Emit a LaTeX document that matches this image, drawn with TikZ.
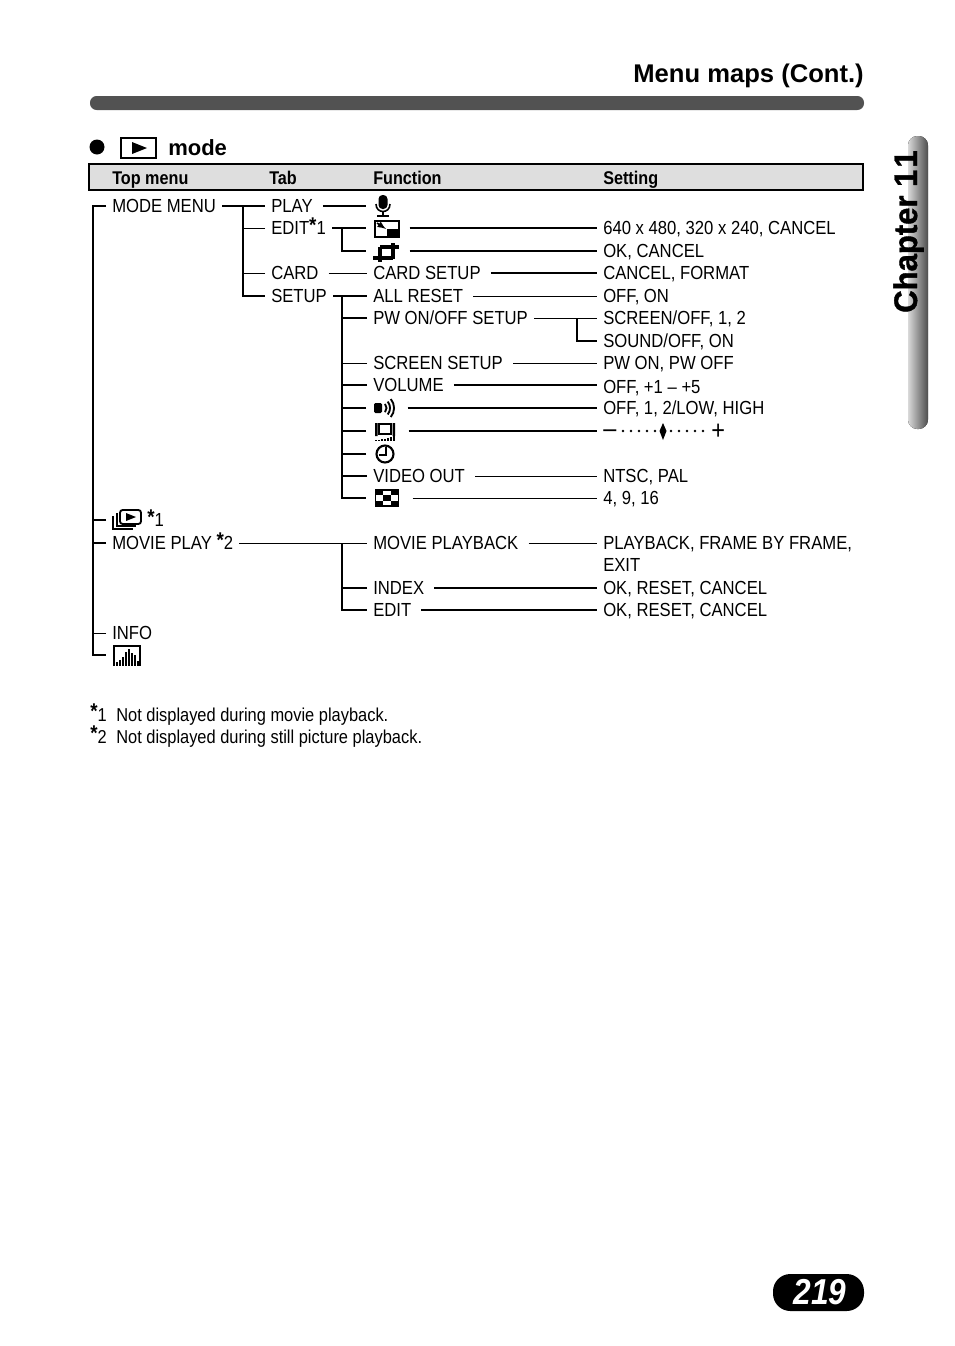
\documentclass[tikz,border=0pt]{standalone}
\usepackage{fontspec}
\setmainfont[FakeStretch=0.88]{Liberation Sans}
\newfontfamily\titlefont{Liberation Sans Bold}
\newfontfamily\chapterfont[FakeBold=1.2,FakeStretch=0.95]{Liberation Sans Bold}
\newcommand{\notestar}{\raisebox{2pt}{\fontsize{16}{16}\selectfont\bfseries *}}
\tikzset{
  item/.style={anchor=west, inner xsep=4.5pt, inner ysep=0pt, text height=10.4pt, text depth=0pt,
    font=\fontsize{14.2}{16}\selectfont},
  headtext/.style={anchor=base west, inner sep=0pt, font=\fontsize{13.8}{16}\selectfont\bfseries},
  notetext/.style={anchor=base west, inner sep=0pt, font=\fontsize{14}{16}\selectfont},
  icon/.style={anchor=west, inner sep=0pt, minimum height=12pt, minimum width=#1*0.75pt},
  heavy/.style={line width=1.4pt},
  fine/.style={line width=0.7pt},
  gapped/.style={shorten <=3pt},
  micicon/.pic={
    \fill[rounded corners=3pt] (-4.5,-11) rectangle (4.5,3);
    \draw[line width=1.2pt] (-7,-2) .. controls (-7,8) and (7,8) .. (7,-2);
    \draw[line width=1.2pt] (0,6) -- (0,10) (-6,10) -- (6,10);
  },
  resizeicon/.pic={
    \fill (0,0) rectangle (12,8);
    \draw[line width=1.7pt] (-12,-8) rectangle (12,8);
    \draw[line width=1.2pt,-latex] (-10,-6) -- (-1,0);
  },
  cropicon/.pic={
    \draw[line width=2.4pt] (-6,-5) -- (13,-5) (7,-9) -- (7,7) (-13,6) -- (7,6) (-6,-5) -- (-6,10);
  },
  speakericon/.pic={
    \fill[rounded corners=1pt] (-11,-5) rectangle (-3,5);
    \foreach \rad in {6.5,10,14}
      \draw[line width=1.4pt] (-5+\rad*0.77,-\rad*0.64) arc[start angle=-40, end angle=40, radius=\rad];
  },
  monitoricon/.pic={
    \draw[line width=1.6pt] (-6,-7) rectangle (6,3);
    \fill (-10,-8) rectangle (-7.5,5) (7.5,-8) rectangle (10,5);
    \foreach \bar/\top in {-9/9,-6/8.5,-3/8,0/8,3/7,6/6,9/5}
      \fill (\bar-1,\top) rectangle (\bar+1,10);
  },
  clockicon/.pic={
    \draw[line width=1.6pt] (0,0) circle[radius=8.5];
    \draw[line width=1.5pt] (-6,1) -- (1,1) -- (1,-7);
  },
  gridicon/.pic={
    \draw[line width=1pt,fill=white] (-11.5,-8) rectangle (11.5,8);
    \foreach \col/\row in {0/0,2/0,1/1,0/2,2/2}
      \fill (-11.5+\col*7.67,-8+\row*5.33) rectangle ++(7.67,5.33);
  },
  stackicon/.pic={
    \draw[line width=1.4pt, rounded corners=2pt] (-7,-10) rectangle (14,4);
    \fill (-1,-7) -- (9,-3) -- (-1,1) -- cycle;
    \draw[line width=1.1pt] (-10,-7) -- (-10,6) -- (9,6) (-14,-4) -- (-14,9) -- (6,9);
  },
  histicon/.pic={
    \draw[line width=1.2pt] (-13,10) -- (-13,-10) -- (13,-10) -- (13,10);
    \foreach \bar/\top in {-10/6,-7/4,-4/1,-1/-4,2/-7,5/-3,8/-1,11/5}
      \fill (\bar-1.3,\top) rectangle (\bar+1.3,10);
  }
}
\begin{document}
\begin{tikzpicture}[x=0.75pt, y=-0.75pt]
  \useasboundingbox (0,0) rectangle (954,1346);
  \node[anchor=base east, inner sep=0pt, font=\titlefont\fontsize{19.2}{22}\selectfont] (title) at (864,82) {Menu maps (Cont.)};
  \fill[black!68, rounded corners=5pt] (90,96) rectangle (864,110);
  \fill[left color=black!15, right color=black!70, rounded corners=7pt] (908,136) rectangle (928,429);
  \node[rotate=90, anchor=base west, inner sep=0pt, font=\chapterfont\fontsize{24.5}{28}\selectfont] (chapter) at (917,313) {Chapter 1\hspace{1.5pt}1};
  \fill[rounded corners=13pt] (773,1274) rectangle (864,1311);
  \node[anchor=center, inner sep=0pt, text=white, font=\fontsize{27}{30}\selectfont\bfseries\itshape] (pageno) at (820,1292) {219};

  \fill (97,147) circle[radius=7.5];
  \draw[line width=1.1pt] (121,138) rectangle (156,158);
  \fill (132,142) -- (147,148) -- (132,154) -- cycle;
  \node[headtext, font=\titlefont\fontsize{16.5}{20}\selectfont] (modelabel) at (168,155) {mode};

  \draw[line width=1.1pt, fill=black!13] (89,164) rectangle (863,190);
  \node[headtext] (headmenu) at (112,184) {Top menu};
  \node[headtext] (headtab) at (269,184) {Tab};
  \node[headtext] (headfunc) at (373,184) {Function};
  \node[headtext] (headset) at (603,184) {Setting};

  \node[item] (modemenu) at (106,206) {MODE MENU};
  \node[icon=36] (stack) at (106,520) {};
  \node[item, anchor=west] (stacknote) at (141,520) {\notestar 1};
  \node[item] (movieplay) at (106,543) {MOVIE PLAY \notestar 2};
  \node[item] (info) at (106,633) {INFO};
  \node[icon=36] (hist) at (106,655) {};

  \node[item] (play) at (265,206) {PLAY};
  \node[item] (edit) at (265,228) {EDIT\notestar 1};
  \node[item] (card) at (265,273) {CARD};
  \node[item] (setup) at (265,296) {SETUP};

  \node[icon=20] (mic) at (366,206) {};
  \node[icon=43] (resize) at (366,228) {};
  \node[icon=43] (crop) at (366,251) {};
  \node[item] (cardsetup) at (367,273) {CARD SETUP};
  \node[item] (allreset) at (367,296) {ALL RESET};
  \node[item] (pwonoff) at (367,318) {PW ON/OFF SETUP};
  \node[item] (screensetup) at (367,363) {SCREEN SETUP};
  \node[item] (volume) at (367,385) {VOLUME};
  \node[icon=41] (speaker) at (366,408) {};
  \node[icon=42] (monitor) at (366,431) {};
  \node[icon=30] (clock) at (366,454) {};
  \node[item] (videoout) at (367,476) {VIDEO OUT};
  \node[icon=46] (grid) at (366,498) {};
  \node[item] (movieback) at (367,543) {MOVIE PLAYBACK};
  \node[item] (index) at (367,588) {INDEX};
  \node[item] (movieedit) at (367,610) {EDIT};

  \node[item] (resizeset) at (597,228) {640 x 480, 320 x 240, CANCEL};
  \node[item] (cropset) at (597,251) {OK, CANCEL};
  \node[item] (cardset) at (597,273) {CANCEL, FORMAT};
  \node[item] (resetset) at (597,296) {OFF, ON};
  \node[item] (screenoff) at (597,318) {SCREEN/OFF, 1, 2};
  \node[item] (soundoff) at (597,341) {SOUND/OFF, ON};
  \node[item] (pwset) at (597,363) {PW ON, PW OFF};
  \node[item] (volset) at (597,387) {OFF, +1 -- +5};
  \node[item] (speakerset) at (597,408) {OFF, 1, 2/LOW, HIGH};
  \node[item, font=\fontsize{20}{22}\selectfont] (dial) at (597,431) {--};
  \node[item, inner xsep=0pt, font=\fontsize{20}{22}\selectfont] (dialplus) at (711,433) {+};
  \node[item] (videoset) at (597,476) {NTSC, PAL};
  \node[item] (gridset) at (597,498) {4, 9, 16};
  \node[item] (backset) at (597,543) {PLAYBACK, FRAME BY FRAME,};
  \node[item] (backexit) at (597,565) {EXIT};
  \node[item] (indexset) at (597,588) {OK, RESET, CANCEL};
  \node[item] (editset) at (597,610) {OK, RESET, CANCEL};

  \pic at (383,206) {micicon};
  \pic at (387,229) {resizeicon};
  \pic at (386,252) {cropicon};
  \pic at (385,408) {speakericon};
  \pic at (385,431) {monitoricon};
  \pic at (385,454) {clockicon};
  \pic at (387,498) {gridicon};
  \pic at (127,520) {stackicon};
  \pic at (127,656) {histicon};

  \foreach \dotx in {623,631,639,647,655,671,679,687,695,703}
    \fill (\dotx,431) circle[radius=1.4];
  \fill (663,423) -- (666.5,431) -- (663,440) -- (659.5,431) -- cycle;

  \draw[heavy] (modemenu.west) -- ++(-13,0) coordinate (lefttrunk) |- (hist.west);
  \draw[heavy] (stack.west) -- (stack.west -| lefttrunk);
  \draw[heavy] (movieplay.west) -- (movieplay.west -| lefttrunk);
  \draw[fine] (info.west) -- (info.west -| lefttrunk);

  \draw[heavy] (modemenu.east) -- (play.west);
  \coordinate (tabtrunk) at (243,206);
  \draw[heavy] (tabtrunk) |- (setup.west);
  \draw[fine] (edit.west) -- (edit.west -| tabtrunk);
  \draw[fine] (card.west) -- (card.west -| tabtrunk);

  \draw[heavy, gapped] (play.east) -- (mic.west);
  \draw[heavy] (edit.east) -- (resize.west);
  \coordinate (subtrunk) at (342,228);
  \draw[heavy] (subtrunk) |- (crop.west);
  \draw[fine, gapped] (card.east) -- (cardsetup.west);
  \draw[heavy] (setup.east) -- (allreset.west);
  \coordinate (setuptrunk) at (342,296);
  \draw[heavy] (setuptrunk) |- (grid.west);
  \foreach \target in {pwonoff,volume,speaker,monitor,clock,videoout}
    \draw[heavy] (\target.west) -- (\target.west -| setuptrunk);
  \draw[fine] (screensetup.west) -- (screensetup.west -| setuptrunk);

  \draw[fine] (movieplay.east) -- (movieback.west);
  \coordinate (movietrunk) at (342,543);
  \draw[heavy] (movietrunk) |- (movieedit.west);
  \draw[heavy] (index.west) -- (index.west -| movietrunk);

  \draw[heavy] (resize.east) -- (resizeset.west);
  \draw[heavy] (crop.east) -- (cropset.west);
  \draw[heavy, gapped] (cardsetup.east) -- (cardset.west);
  \draw[fine, gapped] (allreset.east) -- (resetset.west);
  \draw[fine] (pwonoff.east) -- (screenoff.west);
  \coordinate (pwtrunk) at (577,318);
  \draw[heavy] (pwtrunk) |- (soundoff.west);
  \draw[fine, gapped] (screensetup.east) -- (pwset.west);
  \draw[heavy, gapped] (volume.east) -- (volume.east -| volset.west);
  \draw[heavy] (speaker.east) -- (speakerset.west);
  \draw[heavy] (monitor.east) -- (monitor.east -| dial.west);
  \draw[fine, gapped] (videoout.east) -- (videoset.west);
  \draw[fine] (grid.east) -- (gridset.west);
  \draw[fine, gapped] (movieback.east) -- (backset.west);
  \draw[heavy, gapped] (index.east) -- (indexset.west);
  \draw[heavy, gapped] (movieedit.east) -- (editset.west);

  \node[notetext] (noteone) at (90,721) {\notestar 1};
  \node[notetext] (notetwo) at (90,743) {\notestar 2};
  \node[notetext] (noteonetext) at (116,721) {Not displayed during movie playback.};
  \node[notetext] (notetwotext) at (116,743) {Not displayed during still picture playback.};
\end{tikzpicture}
\end{document}
